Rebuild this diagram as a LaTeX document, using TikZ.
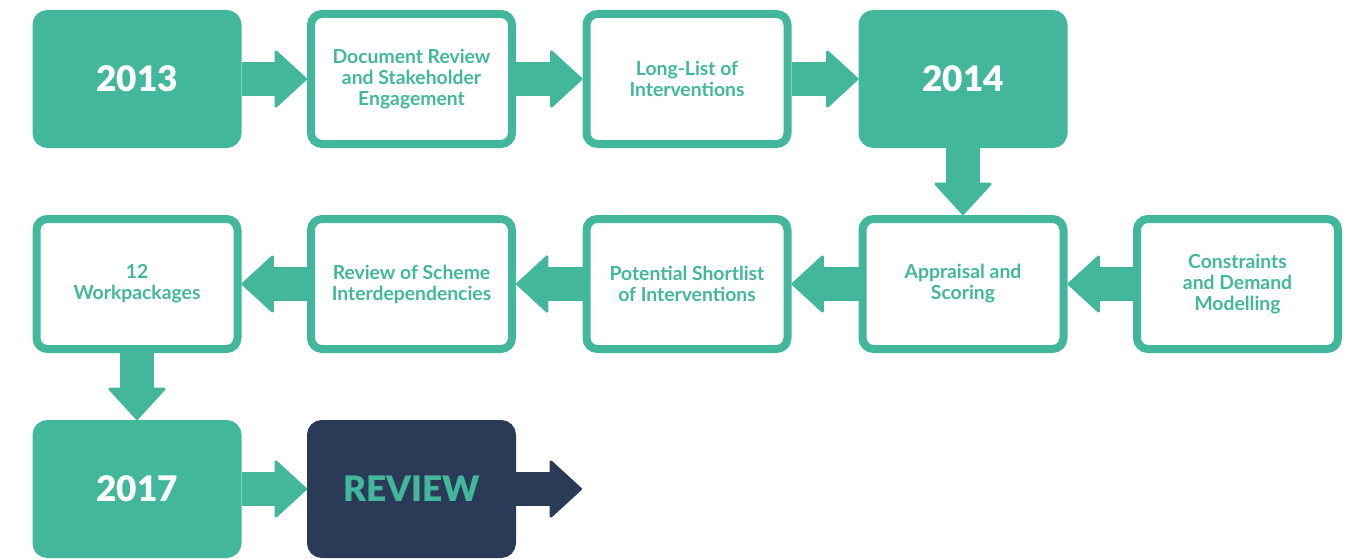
\documentclass[tikz,border=0pt]{standalone}
\usepackage{fontspec}
\setmainfont{Lato}
\newfontfamily\heavyfont{Lato Black}
\usetikzlibrary{arrows.meta}
\definecolor{stepgreen}{HTML}{43B79B}
\definecolor{reviewblue}{HTML}{2B3A57}

\begin{document}
\begin{tikzpicture}[
  box/.style={draw=stepgreen, line width=0.16cm, rounded corners=0.22cm,
    minimum width=4.02cm, minimum height=2.6cm, inner sep=0pt, align=center,
    text=stepgreen, font=\bfseries\fontsize{11}{12}\selectfont},
  year/.style={box, fill=stepgreen, text=white, font=\heavyfont\fontsize{20}{24}\selectfont},
  flow/.style={stepgreen, line width=0.68cm,
    -{Triangle[width=1.2cm,length=0.66cm,line width=1.5pt,round]}}
]
\useasboundingbox (0,0) rectangle (27.08,11.16);

\node[year] (y13) at (2.74,9.58) {2013};
\node[box] (docrev) at (8.23,9.58) {Document Review\\and Stakeholder\\Engagement};
\node[box] (longlist) at (13.74,9.58) {Long-List of\\Interventions};
\node[year] (y14) at (19.26,9.58) {2014};

\node[box] (wp) at (2.74,5.48) {12\\Workpackages};
\node[box] (scheme) at (8.23,5.48) {Review of Scheme\\Interdependencies};
\node[box] (shortlist) at (13.74,5.48) {Potential Shortlist\\of Interventions};
\node[box] (appr) at (19.26,5.48) {Appraisal and\\Scoring};
\node[box] (constr) at (24.75,5.48) {Constraints\\and Demand\\Modelling};

\node[year] (y17) at (2.74,1.38) {2017};
\node[year, draw=reviewblue, fill=reviewblue, text=stepgreen] (review) at (8.23,1.38) {REVIEW};
\coordinate (next) at (11.64,1.38);

\draw[flow] (y13) -- (docrev);
\draw[flow] (docrev) -- (longlist);
\draw[flow] (longlist) -- (y14);
\draw[flow] (y14) -- (appr);
\draw[flow] (constr) -- (appr);
\draw[flow] (appr) -- (shortlist);
\draw[flow] (shortlist) -- (scheme);
\draw[flow] (scheme) -- (wp);
\draw[flow] (wp) -- (y17);
\draw[flow] (y17) -- (review);
\draw[flow, reviewblue] (review) -- (next);
\end{tikzpicture}
\end{document}
